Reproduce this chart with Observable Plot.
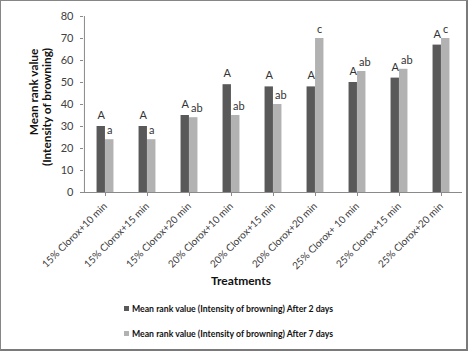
<!DOCTYPE html>
<html>
<head>
<meta charset="utf-8">
<script src="https://cdn.jsdelivr.net/npm/d3@7"></script>
<script src="https://cdn.jsdelivr.net/npm/@observablehq/plot@0.6"></script>
<style>
  html, body { margin: 0; padding: 0; background: #fff; }
  #chart {
    width: 468px; height: 351px; box-sizing: border-box;
    border-left: 1px solid #868686; border-top: 1px solid #868686;
    border-right: 2px solid #7a7a7a; border-bottom: 2px solid #7a7a7a;
    position: relative; overflow: hidden; background: #fff;
    font-family: Lato, "Open Sans", sans-serif;
  }
  #chart svg { display: block; }
  .legend { position: absolute; left: 123px; font-weight: bold; font-size: 8.7px; color: #111; white-space: nowrap; line-height: 12px; }
  .legend .sw { display: inline-block; width: 5px; height: 5px; margin-right: 3px; vertical-align: 1px; }
  .ytitle { position: absolute; font-weight: bold; font-size: 11.8px; color: #111; white-space: nowrap; line-height: 13px;
            transform: translate(-50%, -50%) rotate(-90deg); }
</style>
</head>
<body>
<div id="chart"></div>
<script>
const categories = [
  "15% Clorox+10 min", "15% Clorox+15 min", "15% Clorox+20 min",
  "20% Clorox+10 min", "20% Clorox+15 min", "20% Clorox+20 min",
  "25% Clorox+ 10 min", "25% Clorox+15 min", "25% Clorox+20 min"
];
const after2days = [30, 30, 35, 49, 48, 48, 50, 52, 67];
const after7days = [24, 24, 34, 35, 40, 70, 55, 56, 70];
const letters2days = ["A", "A", "A", "A", "A", "A", "A", "A", "A"];
const letters7days = ["a", "a", "ab", "ab", "ab", "c", "ab", "ab", "c"];
const seriesNames = [
  "Mean rank value (Intensity of browning) After 2 days",
  "Mean rank value (Intensity of browning) After 7 days"
];
const seriesColors = ["#595959", "#b2b2b2"];
const yTicks = [0, 10, 20, 30, 40, 50, 60, 70, 80];
const yTitle = ["Mean rank value", "(Intensity of browning)"];
const xTitle = "Treatments";

const d2 = categories.map((c, i) => ({cat: c, value: after2days[i], letter: letters2days[i]}));
const d7 = categories.map((c, i) => ({cat: c, value: after7days[i], letter: letters7days[i]}));

const W = 465, H = 295, mL = 82, mR = 4, mT = 15, mB = 104;
const half = (W - mL - mR) / categories.length / 2;
const barW = 8.5;
const axisColor = "#8a8a8a";

const plot = Plot.plot({
  width: W, height: H,
  marginLeft: mL, marginRight: mR, marginTop: mT, marginBottom: mB,
  style: {fontFamily: "Lato, 'Open Sans', sans-serif", color: "#333", background: "#fff"},
  x: {domain: categories, padding: 0},
  y: {domain: [0, 80]},
  marks: [
    Plot.barY(d2, {x: "cat", y: "value", fill: seriesColors[0], insetLeft: half - barW, insetRight: half}),
    Plot.barY(d7, {x: "cat", y: "value", fill: seriesColors[1], insetLeft: half, insetRight: half - barW}),
    Plot.ruleX([categories[0]], {dx: -half, y1: 0, y2: 80, stroke: axisColor}),
    Plot.ruleY([0], {stroke: axisColor, insetLeft: -3}),
    Plot.axisY({ticks: yTicks, tickSize: 3, tickPadding: 7, fontSize: 11, stroke: axisColor, fill: "#404040", label: null}),
    Plot.axisX({tickSize: 4, tickPadding: 8, tickRotate: -45, fontSize: 10, stroke: axisColor, fill: "#404040", label: null}),
    Plot.text(d2, {x: "cat", y: "value", text: "letter", dx: -barW / 2, dy: -11, fontSize: 11, fill: "#333"}),
    Plot.text(d7, {x: "cat", y: "value", text: "letter", dx: 1.5, dy: -9, textAnchor: "start", fontSize: 11, fill: "#333"}),
    Plot.text([xTitle], {text: d => d, frameAnchor: "bottom", dx: -32, dy: 92, fontSize: 12, fontWeight: "bold", fill: "#111"})
  ]
});

const chart = document.getElementById("chart");
chart.appendChild(plot);

const yTitlePos = [[32, 91], [45, 106]];
yTitle.forEach((t, i) => {
  const el = document.createElement("div");
  el.className = "ytitle";
  el.style.left = yTitlePos[i][0] + "px";
  el.style.top = yTitlePos[i][1] + "px";
  el.textContent = t;
  chart.appendChild(el);
});

seriesNames.forEach((name, i) => {
  const row = document.createElement("div");
  row.className = "legend";
  row.style.top = (302 + i * 25) + "px";
  const sw = document.createElement("span");
  sw.className = "sw";
  sw.style.background = seriesColors[i];
  row.appendChild(sw);
  row.appendChild(document.createTextNode(name));
  chart.appendChild(row);
});
</script>
</body>
</html>
